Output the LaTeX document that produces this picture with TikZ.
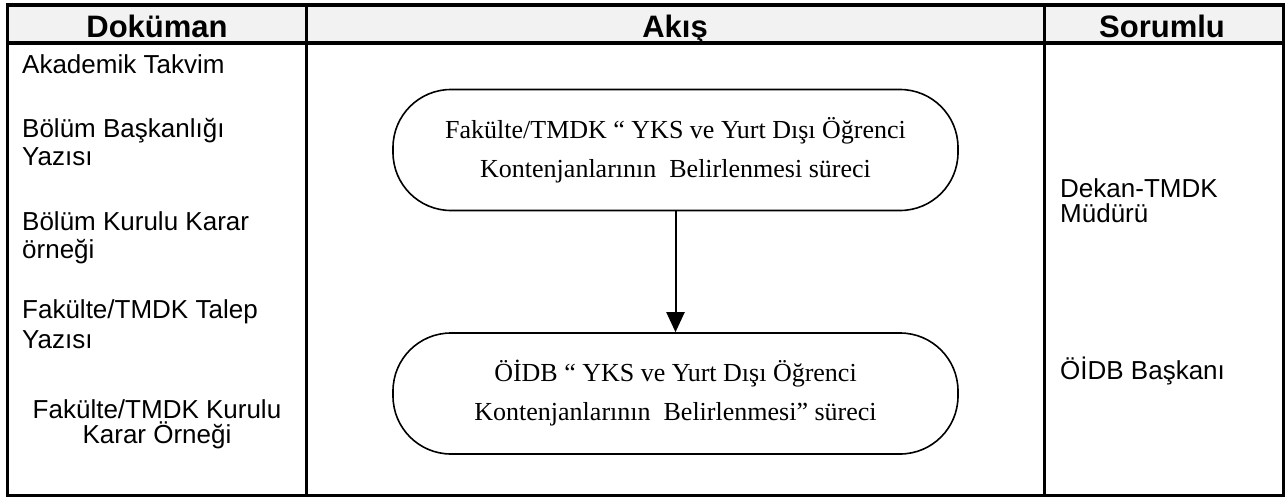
\documentclass[tikz,border=0pt]{standalone}
\usepackage{fontspec}
\setmainfont{Liberation Sans}
\newfontfamily\timesfont{Liberation Serif}
\usetikzlibrary{arrows.meta}
\tikzset{>={Triangle[width=18pt,length=20pt]}}

\begin{document}
\begin{tikzpicture}[x=1pt, y=-1pt,
  hdr/.style={anchor=base, inner sep=0pt, font=\fontsize{31}{36}\selectfont\bfseries},
  doc/.style={anchor=base west, inner sep=0pt, align=left, font=\fontsize{26}{28}\selectfont},
  proc/.style={draw, line width=1.6pt, rounded corners=58pt, minimum width=565pt,
    minimum height=121pt, align=center, font=\timesfont\fontsize{26}{39}\selectfont}]
\useasboundingbox (0,0) rectangle (1285,498);
% table
\fill[black!5] (7,4.5) rectangle (1283,43);
\draw[line width=3pt] (7,3) -- (7,497) (306,3) -- (306,497)
  (1044,3) -- (1044,497) (1283,3) -- (1283,497);
\draw[line width=4pt] (5.5,4.5) -- (1284.5,4.5) (5.5,43) -- (1284.5,43);
\draw[line width=3pt] (5.5,495.5) -- (1284.5,495.5);
\node[hdr] (hdoc) at (157,37) {Doküman};
\node[hdr] (hakis) at (675,37) {Akış};
\node[hdr] (hsor) at (1162,37) {Sorumlu};
% documents (base = last line)
\node[doc] (takvim) at (22,73) {Akademik Takvim};
\node[doc] (bbyazi) at (22,165) {Bölüm Başkanlığı\\Yazısı};
\node[doc] (bkkarar) at (22,258) {Bölüm Kurulu Karar\\örneği};
\node[doc, font=\fontsize{26}{30}\selectfont] (ftyazi) at (22,348) {Fakülte/TMDK Talep\\Yazısı};
\node[doc, anchor=base, align=center, font=\fontsize{26}{25}\selectfont] (fkkarar) at (157,443)
  {Fakülte/TMDK Kurulu\\Karar Örneği};
% responsible
\node[doc, font=\fontsize{26}{25}\selectfont] (dekan) at (1060,222) {Dekan-TMDK\\Müdürü};
\node[doc] (baskan) at (1060,379) {ÖİDB Başkanı};
% flow
\node[proc] (fak) at (675.5,150)
  {Fakülte/TMDK “ YKS ve Yurt Dışı Öğrenci\\Kontenjanlarının\ \ Belirlenmesi süreci};
\node[proc] (oidb) at (675.5,393.5)
  {ÖİDB “ YKS ve Yurt Dışı Öğrenci\\Kontenjanlarının\ \ Belirlenmesi” süreci};
\path[->, line width=2pt] (fak) edge (oidb);
\end{tikzpicture}
\end{document}
